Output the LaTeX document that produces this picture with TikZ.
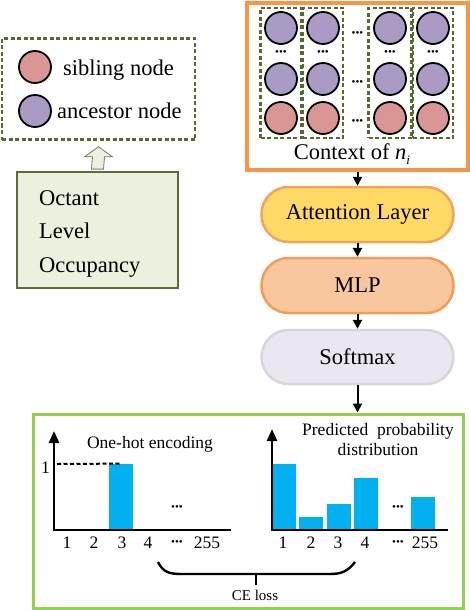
\documentclass[tikz,border=0pt]{standalone}
\usepackage{fontspec}
\setmainfont{Liberation Serif}
\usetikzlibrary{arrows.meta,calc}
\definecolor{sibc}{HTML}{DA9694}
\definecolor{ancc}{HTML}{A99BC4}
\definecolor{dgreen}{HTML}{56692E}
\definecolor{gfill}{HTML}{EBF1DE}
\definecolor{gdark}{HTML}{5A7032}
\definecolor{orng}{HTML}{F79646}
\definecolor{attfill}{HTML}{FFD966}
\definecolor{attdraw}{HTML}{F4A35A}
\definecolor{mlpfill}{HTML}{F8C79E}
\definecolor{mlpdraw}{HTML}{F29C58}
\definecolor{smfill}{HTML}{EAE7F0}
\definecolor{smdraw}{HTML}{D9D5DF}
\definecolor{lgreen}{HTML}{92D050}
\definecolor{barc}{HTML}{00B0F0}
\begin{document}
\begin{tikzpicture}[x=1pt,y=-1pt,
  sib/.style={circle,draw=black,line width=1.8pt,fill=sibc,minimum size=32pt,inner sep=0pt},
  anc/.style={circle,draw=black,line width=1.8pt,fill=ancc,minimum size=32pt,inner sep=0pt},
  dbox/.style={draw=dgreen,dash pattern=on 4pt off 2.5pt,line width=2.6pt,inner sep=0pt},
  tdots/.style={font=\fontsize{11}{11}\selectfont,inner sep=0pt},
  lbl/.style={font=\fontsize{22.5}{27}\selectfont,inner sep=0pt},
  sml/.style={font=\fontsize{17.5}{20}\selectfont,inner sep=0pt},
  pill/.style={rounded corners=27pt,line width=2.5pt,minimum width=192pt,inner sep=0pt,font=\fontsize{22.5}{27}\selectfont},
  arr/.style={-{Triangle[length=9pt,width=9pt]},line width=2pt},
  axis/.style={-{Triangle[length=12pt,width=10pt]},line width=2.6pt},
  bar/.style={fill=barc,inner sep=0pt,anchor=south west,minimum width=24pt}
]
\useasboundingbox (0,0) rectangle (470,610);

% ---------- legend ----------
\node[dbox,minimum width=193pt,minimum height=101pt] (legend) at (98.5,89) {};
\node[sib] (ls) at (35,67) {};
\node[lbl,anchor=base west] (lst) at (63,75) {sibling node};
\node[anc] (la) at (35,111) {};
\node[lbl,anchor=base west] (lat) at (57,118) {ancestor node};

% ---------- attribute box ----------
\node[draw=gdark,fill=gfill,line width=2.8pt,minimum width=161pt,minimum height=116pt,inner sep=0pt] (attr) at (97.5,230) {};
\node[lbl,anchor=base west] (oc) at (39,205) {Octant};
\node[lbl,anchor=base west] (lv) at (39,238) {Level};
\node[lbl,anchor=base west] (ocp) at (39,272) {Occupancy};
\draw[fill=gfill,draw=gray!75!dgreen,line width=0.8pt]
  ($(attr.north)+(-6,-1.5)$) -- ($(legend.south)+(-6,16)$) -- ($(legend.south)+(-14,16)$)
  -- ($(legend.south)+(0,6)$) -- ($(legend.south)+(14,16)$) -- ($(legend.south)+(6,16)$)
  -- ($(attr.north)+(6,-1.5)$) -- cycle;

% ---------- context box ----------
\node[draw=orng,line width=3.5pt,minimum width=221pt,minimum height=167pt,inner sep=0pt] (ctx) at (357.5,86.5) {};
\foreach \c/\x/\w in {1/281/41,2/323/40,3/390/43,4/433/40}{
  \node[dbox,minimum width=\w pt,minimum height=130pt] (col\c) at (\x,73) {};
  \node[anc] (a\c) at (\x,28) {};
  \node[tdots] (vd\c) at (\x,53) {•••};
  \node[anc] (b\c) at (\x,79) {};
  \node[sib] (s\c) at (\x,118) {};
}
\node[tdots] (hd1) at (357.5,34) {•••};
\node[tdots] (hd2) at (357.5,83) {•••};
\node[tdots] (hd3) at (357.5,122) {•••};
\node[lbl,anchor=base] (ctxt) at (352,159) {Context of \textit{n}\raisebox{-5pt}{\fontsize{13}{13}\selectfont\textit{i}}};

% ---------- pipeline ----------
\node[pill,fill=attfill,draw=attdraw,minimum height=55pt] (att) at (357.5,214.5) {Attention Layer};
\node[pill,fill=mlpfill,draw=mlpdraw,minimum height=55pt] (mlp) at (357.5,285.5) {MLP};
\node[pill,fill=smfill,draw=smdraw,minimum height=54pt] (sm) at (357.5,357) {Softmax};

% ---------- bottom box ----------
\node[draw=lgreen,line width=3pt,minimum width=430pt,minimum height=194pt,inner sep=0pt] (out) at (248,511) {};

\draw[arr] (ctx.south) -- (att.north);
\draw[arr] (att.south) -- (mlp.north);
\draw[arr] (mlp.south) -- (sm.north);
\draw[arr] (sm.south) -- (sm.south |- out.north);

% left chart
\coordinate (lo) at (54,530);
\coordinate (ly) at (54,431);
\coordinate (lx) at (231,530);
\node[bar,minimum height=66pt] (lb3) at (109,530) {};
\draw[dash pattern=on 4pt off 2.5pt,line width=2pt] (57,464) -- (lb3.north);
\draw[axis] (lo) -- (ly);
\draw[line width=2.6pt] ($(lo)+(-1.3,0)$) -- (lx);
\node[sml,anchor=base east] (one) at (50,473) {1};
\node[sml,anchor=base] (oh) at (150,448) {One-hot encoding};
\foreach \n/\x in {1/67,2/94,3/122,4/148,255/207}{
  \node[sml,anchor=base] (lt\n) at (\x,548) {\n};
}
\node[tdots] (ltd) at (177,543) {•••};
\node[tdots] (lmd) at (177,508) {•••};

% right chart
\coordinate (ro) at (272,530);
\coordinate (ry) at (272,429);
\coordinate (rx) at (448,530);
\node[bar,minimum height=66pt] (rb1) at (272,530) {};
\node[bar,minimum height=13pt] (rb2) at (299,530) {};
\node[bar,minimum height=26pt] (rb3) at (327,530) {};
\node[bar,minimum height=52pt] (rb4) at (354,530) {};
\node[bar,minimum height=33pt] (rb5) at (411,530) {};
\draw[axis] (ro) -- (ry);
\draw[line width=2.6pt] ($(ro)+(-1.3,0)$) -- (rx);
\node[sml,anchor=base,align=center] (pt1) at (378,435) {Predicted\ \ probability};
\node[sml,anchor=base] (pt2) at (378,455) {distribution};
\foreach \n/\x in {1/283,2/311,3/338,4/365,255/425}{
  \node[sml,anchor=base] (rt\n) at (\x,548) {\n};
}
\node[tdots] (rtd) at (398,543) {•••};
\node[tdots] (rmd) at (398,508) {•••};

% brace and CE loss
\draw[line width=2.4pt] (158,562) .. controls (163,572) and (169,574) .. (181,574) -- (330,574)
  .. controls (342,574) and (348,571) .. (355,562);
\coordinate (bm) at (256,574);
\coordinate (bt) at (256,585);
\draw[line width=2.4pt] (bm) -- (bt);
\node[font=\fontsize{15}{15}\selectfont,anchor=base,inner sep=0pt] (ce) at (255,600) {CE loss};
\end{tikzpicture}
\end{document}
